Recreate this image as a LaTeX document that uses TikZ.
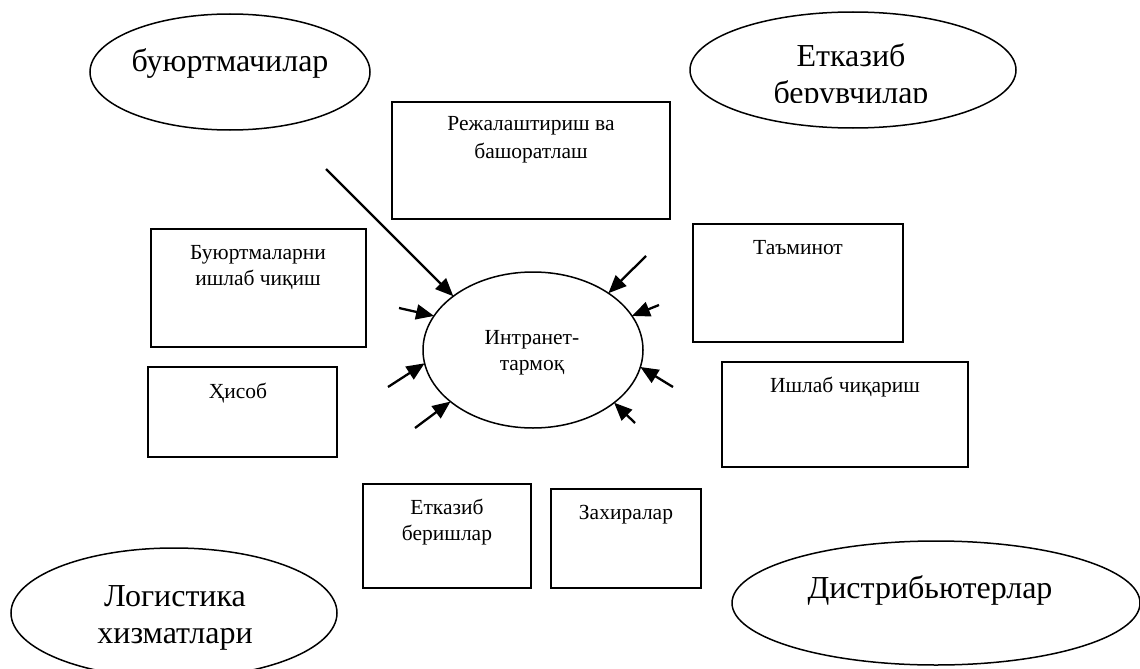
\documentclass[tikz,border=0pt]{standalone}
\usepackage{fontspec}
\setmainfont{Liberation Serif}
\usetikzlibrary{shapes.geometric,arrows.meta}
\tikzset{
  oval/.style={draw=black, ellipse, line width=1.5pt, inner sep=0pt, outer sep=0pt},
  boxnode/.style={draw=black, rectangle, line width=2pt, inner sep=0pt, outer sep=0pt},
  bigtext/.style={align=center, inner sep=0pt, font=\fontsize{32}{37}\selectfont},
  smalltext/.style={align=center, inner sep=0pt, font=\fontsize{21.5}{26}\selectfont},
  feed/.style={line width=2.3pt, -{Triangle[length=18pt,width=15pt]}},
}
\begin{document}
\begin{tikzpicture}[x=1pt,y=-1pt]
\clip (0,0) rectangle (1140,669);
\fill[white] (0,0) rectangle (1140,669);

% outer ellipses
\node[oval, minimum width=280pt, minimum height=116pt] (cust) at (230,72) {};
\node[bigtext] (custT) at (230,63) {буюртмачилар};

\node[oval, minimum width=326pt, minimum height=116pt] (supp) at (853,70) {};
\begin{scope}
  \clip (690,0) rectangle (1016,102);
  \node[bigtext] (suppT) at (851,77) {Етказиб\\берувчилар};
\end{scope}

\node[oval, minimum width=326pt, minimum height=130pt] (logi) at (174,613) {};
\node[bigtext] (logiT) at (175,618) {Логистика\\хизматлари};

\node[oval, minimum width=408pt, minimum height=124pt] (dist) at (936,603) {};
\node[bigtext] (distT) at (930,590) {Дистрибьютерлар};

% central ellipse
\node[oval, minimum width=220pt, minimum height=156pt] (net) at (533,350) {};
\node[smalltext] (netT) at (532,353) {Интранет-\\тармоқ};

% boxes
\node[boxnode, minimum width=278pt, minimum height=117pt] (plan) at (531,160.5) {};
\node[smalltext, font=\fontsize{21.5}{28}\selectfont] (planT) at (531,140) {Режалаштириш ва\\башоратлаш};

\node[boxnode, minimum width=215pt, minimum height=118pt] (orders) at (258.5,288) {};
\node[smalltext] (ordersT) at (258,267.5) {Буюртмаларни\\ишлаб чиқиш};

\node[boxnode, minimum width=189pt, minimum height=90pt] (acct) at (242.5,412) {};
\node[smalltext] (acctT) at (238,393) {Ҳисоб};

\node[boxnode, minimum width=210pt, minimum height=118pt] (supply) at (798,283) {};
\node[smalltext] (supplyT) at (798,248) {Таъминот};

\node[boxnode, minimum width=246pt, minimum height=105pt] (prod) at (845,414.5) {};
\node[smalltext] (prodT) at (845,387) {Ишлаб чиқариш};

\node[boxnode, minimum width=168pt, minimum height=104pt] (deliv) at (447,536) {};
\node[smalltext] (delivT) at (447,522) {Етказиб\\беришлар};

\node[boxnode, minimum width=150pt, minimum height=99pt] (res) at (626,538.5) {};
\node[smalltext] (resT) at (626,515) {Захиралар};

% arrow tails
\coordinate (t1) at (326,169);
\coordinate (t2) at (646,256);
\coordinate (t3) at (659,305);
\coordinate (t4) at (673,387);
\coordinate (t5) at (635,423);
\coordinate (t6) at (399,308);
\coordinate (t7) at (388,387);
\coordinate (t8) at (415,428);

\draw[feed] (t1) -- (net.146.6);
\draw[feed] (t2) -- (net.37.7);
\draw[feed] (t3) -- (net.19.3);
\draw[feed] (t4) -- (net.-9.5);
\draw[feed] (t5) -- (net.-33.2);
\draw[feed] (t6) -- (net.161.1);
\draw[feed] (t7) -- (net.187.6);
\draw[feed] (t8) -- (net.212.1);
\end{tikzpicture}
\end{document}
